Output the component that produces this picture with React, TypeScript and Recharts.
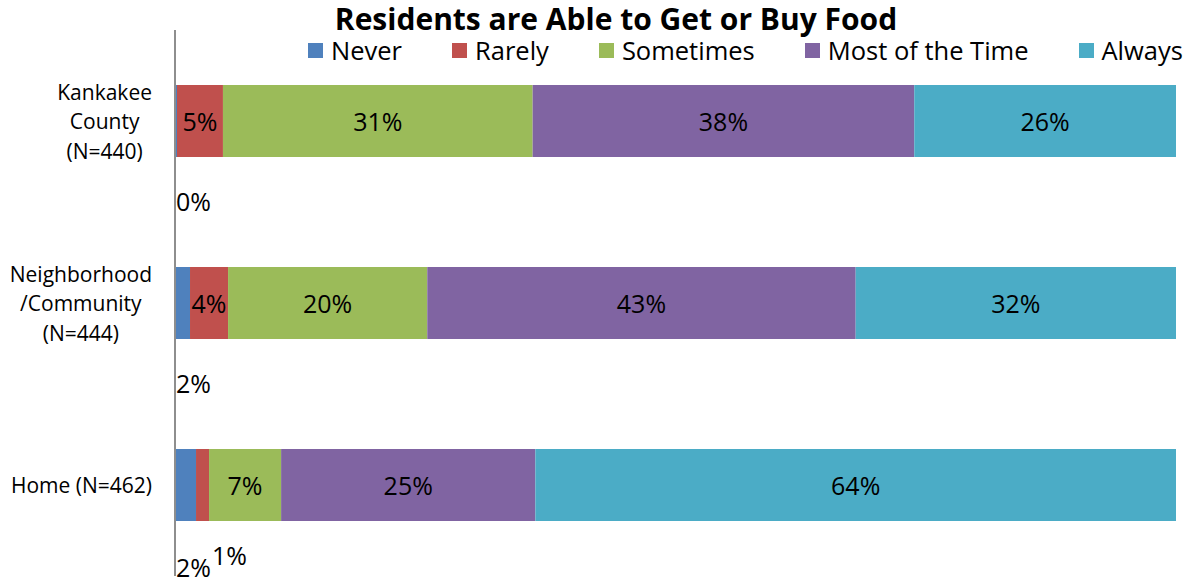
import React from 'react';
import { Bar, BarChart, LabelList, XAxis, YAxis } from 'recharts';

const categories = ['Kankakee County (N=440)', 'Neighborhood/Community (N=444)', 'Home (N=462)'];
const categoryLines = [['Kankakee', 'County', '(N=440)'], ['Neighborhood', '/Community', '(N=444)'], ['Home (N=462)']];

const never = [0.2, 1.5, 2.1];
const rarely = [4.6, 3.8, 1.3];
const sometimes = [31.0, 19.9, 7.2];
const mostOfTheTime = [38.2, 42.8, 25.4];
const always = [26.2, 32.0, 64.0];

const seriesNames = ['Never', 'Rarely', 'Sometimes', 'Most of the Time', 'Always'];
const seriesKeys = ['never', 'rarely', 'sometimes', 'most', 'always'];
const seriesColors = ['#4F81BD', '#C0504D', '#9BBB59', '#8064A2', '#4BACC6'];

const title = 'Residents are Able to Get or Buy Food';

const rows = categories.map((name, i) => ({
  name,
  lines: categoryLines[i],
  never: never[i],
  rarely: rarely[i],
  sometimes: sometimes[i],
  most: mostOfTheTime[i],
  always: always[i],
}));

const FONT = "'Open Sans', 'Liberation Sans', sans-serif";
const SMALL = 2.5;

let ctx: CanvasRenderingContext2D | null = null;
function textWidth(s: string, font: string) {
  if (!ctx) ctx = document.createElement('canvas').getContext('2d');
  if (!ctx) return s.length * 10;
  ctx.font = font;
  return ctx.measureText(s).width;
}

function CategoryTick(props: any) {
  const { x, y, payload } = props;
  const row = rows.find((r) => r.name === payload.value);
  const lines = row ? row.lines : [payload.value];
  const w = Math.max(...lines.map((l) => textWidth(l, `21px ${FONT}`)));
  const cx = x - w / 2;
  const lh = 29.5;
  const start = y - ((lines.length - 1) * lh) / 2;
  return (
    <g>
      {lines.map((l, i) => (
        <text key={i} x={cx} y={start + i * lh} textAnchor='middle' dominantBaseline='central' fontSize={21} fontFamily={FONT} fill='#000'>
          {l}
        </text>
      ))}
    </g>
  );
}

function makeLabel(key: string) {
  return (props: any) => {
    const { x, y, width, height, index } = props;
    const row: any = rows[index];
    const v = row[key];
    const text = `${Math.round(v)}%`;
    if (v >= SMALL) {
      return (
        <text x={x + width / 2} y={y + height / 2} textAnchor='middle' dominantBaseline='central' fontSize={25} fontFamily={FONT} fill='#000'>
          {text}
        </text>
      );
    }
    // small segments get their label under the bar, like Excel does
    const smallKeys = seriesKeys.filter((k) => row[k] < SMALL);
    const pos = smallKeys.indexOf(key);
    let lx = x + 1;
    let dy = 44;
    if (smallKeys.length > 1) {
      dy = pos === 0 ? 46 : 34;
      if (pos > 0) lx = x + width + 3;
    }
    return (
      <text x={lx} y={y + height + dy} textAnchor='start' dominantBaseline='central' fontSize={25} fontFamily={FONT} fill='#000'>
        {text}
      </text>
    );
  };
}

export default function App() {
  return (
    <div style={{ position: 'absolute', left: 0, top: 0, width: 1196, height: 584, background: '#fff', fontFamily: FONT }}>
      <div
        style={{
          position: 'absolute',
          top: 4,
          left: 616,
          transform: 'translateX(-50%)',
          fontSize: 30,
          fontWeight: 700,
          whiteSpace: 'nowrap',
          lineHeight: '30px',
        }}
      >
        {title}
      </div>
      <div style={{ position: 'absolute', top: 37, left: 308, display: 'flex', alignItems: 'center', height: 26 }}>
        {seriesNames.map((n, i) => (
          <div key={n} style={{ display: 'flex', alignItems: 'center', marginRight: 50 }}>
            <span style={{ display: 'inline-block', width: 15, height: 15, background: seriesColors[i], marginRight: 8 }} />
            <span style={{ fontSize: 25.5, lineHeight: '26px', whiteSpace: 'nowrap' }}>{n}</span>
          </div>
        ))}
      </div>
      <BarChart
        width={1196}
        height={584}
        data={rows}
        layout='vertical'
        stackOffset='expand'
        margin={{ top: 30, right: 20, bottom: 8, left: 0 }}
        barSize={72}
      >
        <XAxis type='number' hide domain={[0, 1]} />
        <YAxis
          type='category'
          dataKey='name'
          width={175}
          axisLine={{ stroke: '#8E8E8E', strokeWidth: 2 }}
          tickLine={false}
          tickSize={0}
          tickMargin={23}
          tick={<CategoryTick />}
        />
        {seriesKeys.map((k, i) => (
          <Bar key={k} dataKey={k} name={seriesNames[i]} stackId='a' fill={seriesColors[i]} isAnimationActive={false}>
            <LabelList dataKey={k} content={makeLabel(k)} />
          </Bar>
        ))}
      </BarChart>
    </div>
  );
}
